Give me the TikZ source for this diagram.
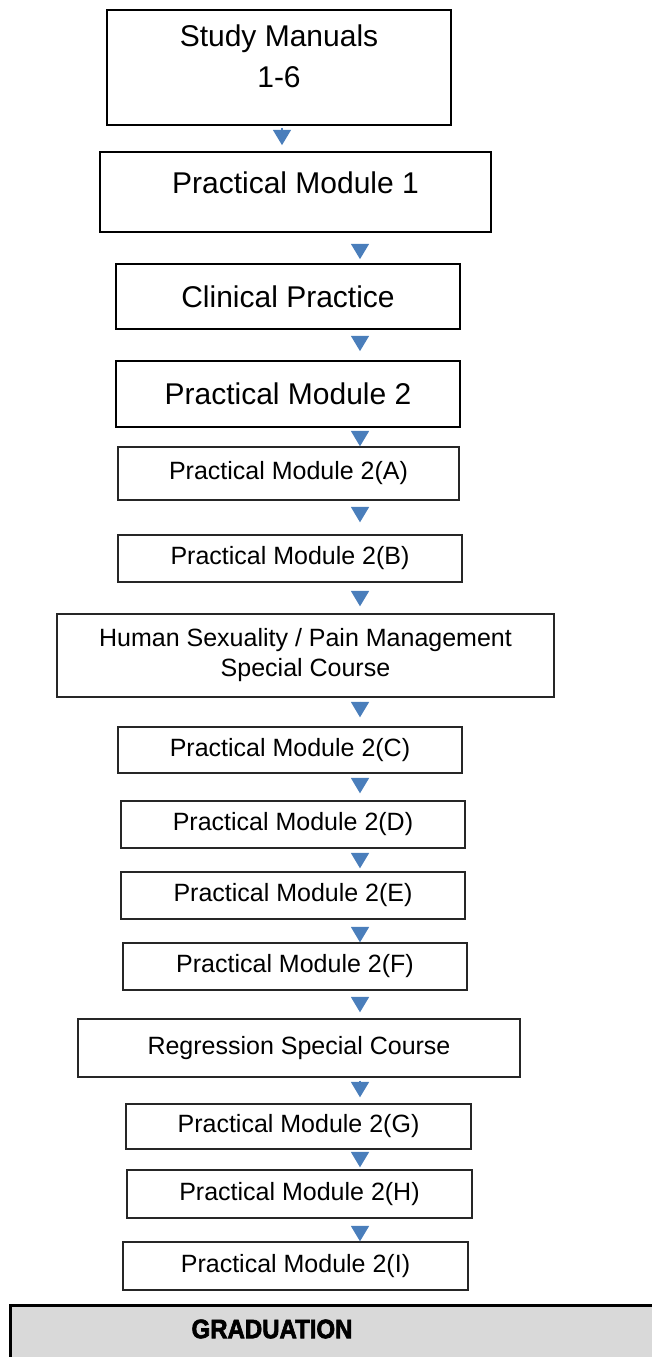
\documentclass[tikz,border=0pt]{standalone}
\usepackage{fontspec}
\setmainfont{Liberation Sans}
\newfontfamily\gradfont[BoldFeatures={FakeBold=2.5,FakeStretch=0.9}]{Liberation Sans}
\usetikzlibrary{arrows.meta}
\definecolor{flowblue}{HTML}{4A7EBB}
\definecolor{gradgray}{HTML}{D9D9D9}
\newcommand{\px}{*0.75pt}
\newcommand{\lift}[2]{\raisebox{#1}[\height][\depth]{#2}}
\tikzset{
  bigbox/.style={draw, line width=1.7\px, inner sep=0pt, align=center,
    font=\fontsize{22.5pt}{30.75pt}\selectfont},
  smallbox/.style={draw=black!85, line width=1.4\px, inner sep=0pt, align=center,
    font=\fontsize{18.75pt}{22.5pt}\selectfont},
  flow/.style={flowblue, line width=1.3\px, -{Triangle[width=13.5pt,length=11.5pt]}},
  gradbox/.style={draw, fill=gradgray, line width=3\px},
  gradtext/.style={font=\gradfont\bfseries\fontsize{20pt}{23pt}\selectfont}
}
\begin{document}
\begin{tikzpicture}[x=0.75pt,y=-0.75pt]
\useasboundingbox (0,0) rectangle (652,1357);
\coordinate (ax0) at (282,0);
\coordinate (ax) at (360,0);

% the steps, top to bottom
\node (sm) [bigbox, minimum width=344\px, minimum height=115\px] at (279,67.5)
  {\lift{6.5pt}{\begin{tabular}{@{}c@{}}Study Manuals\\1-6\end{tabular}}};
\node (pm1) [bigbox, minimum width=391\px, minimum height=80\px] at (295.5,192)
  {\lift{7pt}{Practical Module 1}};
\node (cp) [bigbox, minimum width=344\px, minimum height=65\px] at (288,296.5) {Clinical Practice};
\node (pm2) [bigbox, minimum width=344\px, minimum height=66\px] at (288,394) {Practical Module 2};
\node (pmA) [smallbox, minimum width=341\px, minimum height=53\px] at (288.5,473.5) {Practical Module 2(A)};
\node (pmB) [smallbox, minimum width=344\px, minimum height=47\px] at (290,558.5) {Practical Module 2(B)};
\node (hs) [smallbox, minimum width=497\px, minimum height=83\px] at (305.5,655.5)
  {Human Sexuality / Pain Management\\Special Course};
\node (pmC) [smallbox, minimum width=344\px, minimum height=46\px] at (290,750) {Practical Module 2(C)};
\node (pmD) [smallbox, minimum width=344\px, minimum height=47\px] at (293,824.5) {Practical Module 2(D)};
\node (pmE) [smallbox, minimum width=344\px, minimum height=47\px] at (293,895.5) {Practical Module 2(E)};
\node (pmF) [smallbox, minimum width=344\px, minimum height=47\px] at (295,966.5) {Practical Module 2(F)};
\node (reg) [smallbox, minimum width=442\px, minimum height=58\px] at (299,1048) {Regression Special Course};
\node (pmG) [smallbox, minimum width=345\px, minimum height=45\px] at (298.5,1126.5) {Practical Module 2(G)};
\node (pmH) [smallbox, minimum width=345\px, minimum height=48\px] at (299.5,1194) {Practical Module 2(H)};
\node (pmI) [smallbox, minimum width=345\px, minimum height=48\px] at (295.5,1266) {Practical Module 2(I)};

% graduation bar runs off the page
\draw[gradbox] (10,1305) rectangle (680,1390);
\node (grad) [gradtext] at (272,1329) {GRADUATION};

% arrows
\draw[flow, shorten <=2\px, shorten >=6\px] (sm.south -| ax0) -- (pm1.north -| ax0);
\draw[flow, shorten <=11\px, shorten >=4\px] (pm1.south -| ax) -- (cp.north -| ax);
\draw[flow, shorten <=6\px, shorten >=9\px] (cp.south -| ax) -- (pm2.north -| ax);
\draw[flow, shorten <=3\px, shorten >=0\px] (pm2.south -| ax) -- (pmA.north -| ax);
\draw[flow, shorten <=7\px, shorten >=12\px] (pmA.south -| ax) -- (pmB.north -| ax);
\draw[flow, shorten <=9\px, shorten >=7\px] (pmB.south -| ax) -- (hs.north -| ax);
\draw[flow, shorten <=4\px, shorten >=9\px] (hs.south -| ax) -- (pmC.north -| ax);
\draw[flow, shorten <=5\px, shorten >=7\px] (pmC.south -| ax) -- (pmD.north -| ax);
\draw[flow, shorten <=5\px, shorten >=3\px] (pmD.south -| ax) -- (pmE.north -| ax);
\draw[flow, shorten <=8\px, shorten >=0\px] (pmE.south -| ax) -- (pmF.north -| ax);
\draw[flow, shorten <=7\px, shorten >=6\px] (pmF.south -| ax) -- (reg.north -| ax);
\draw[flow, shorten <=3\px, shorten >=6\px] (reg.south -| ax) -- (pmG.north -| ax);
\draw[flow, shorten <=4\px, shorten >=2\px] (pmG.south -| ax) -- (pmH.north -| ax);
\draw[flow, shorten <=9\px, shorten >=0\px] (pmH.south -| ax) -- (pmI.north -| ax);
\end{tikzpicture}
\end{document}
